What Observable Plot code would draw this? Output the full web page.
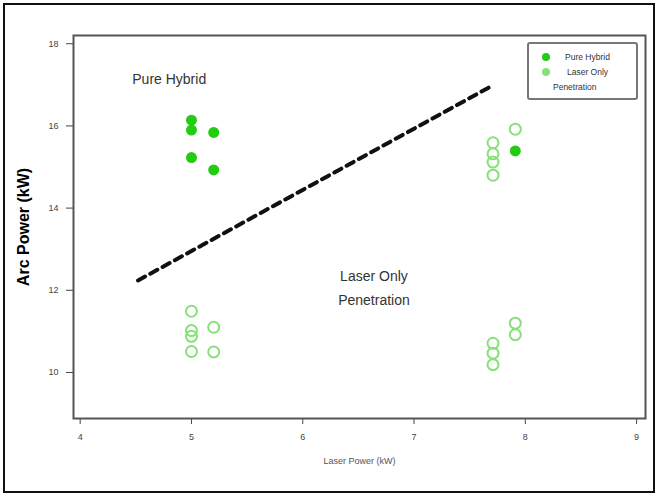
<!DOCTYPE html>
<html>
<head>
<meta charset="utf-8">
<script src="https://cdn.jsdelivr.net/npm/d3@7"></script>
<script src="https://cdn.jsdelivr.net/npm/@observablehq/plot@0.6"></script>
<style>
  body { margin: 0; background: #fff; font-family: "Liberation Sans", Arial, sans-serif; }
  #wrap { position: relative; width: 658px; height: 495px; }
  #wrap svg { display: block; }
  #border { position: absolute; left: 3px; top: 3px; width: 648px; height: 486px; border: 2px solid #111; pointer-events: none; }
  #legend { position: absolute; left: 527px; top: 42px; width: 107px; height: 54px; border: 2px solid #777; border-radius: 3px; font-size: 8.5px; color: #333; }
  .item { position: absolute; white-space: nowrap; }
  .dot { position: absolute; width: 8px; height: 8px; border-radius: 50%; }
</style>
</head>
<body>
<div id="wrap">
  <div id="chart"></div>
  <div id="legend"></div>
  <div id="border"></div>
</div>
<script>
const xTicks = [4, 5, 6, 7, 8, 9];
const yTicks = [10, 12, 14, 16, 18];

const hybridX = [5, 5, 5.2, 5, 5.2, 7.91];
const hybridY = [16.14, 15.9, 15.84, 15.23, 14.93, 15.39];

const laserX = [7.71, 7.71, 7.71, 7.71, 7.91, 5, 5, 5, 5, 5.2, 5.2, 7.71, 7.71, 7.71, 7.91, 7.91];
const laserY = [15.59, 15.32, 15.12, 14.80, 15.92, 11.49, 11.02, 10.88, 10.51, 11.1, 10.5, 10.71, 10.47, 10.19, 11.2, 10.92];

const boundaryX = [4.52, 7.67];
const boundaryY = [12.24, 16.93];

const regionLabels = ["Pure Hybrid", "Laser Only\nPenetration"];
const regionX = [4.8, 6.64];
const regionY = [17.2, 12.12];

const legendLabels = ["Pure Hybrid", "Laser Only", "Penetration"];
const colorHybrid = "#22cc11";
const colorLaser = "#88e07a";

const hybrid = hybridX.map((x, i) => ({x, y: hybridY[i]}));
const laser = laserX.map((x, i) => ({x, y: laserY[i]}));
const boundary = boundaryX.map((x, i) => ({x, y: boundaryY[i]}));
const regions = regionLabels.map((t, i) => ({t, x: regionX[i], y: regionY[i]}));

const chart = Plot.plot({
  width: 658,
  height: 495,
  marginLeft: 73,
  marginRight: 13,
  marginTop: 35,
  marginBottom: 77,
  style: {fontFamily: "'Liberation Sans', Arial, sans-serif", background: "white"},
  x: {domain: [3.94, 9.08]},
  y: {domain: [8.88, 18.2]},
  marks: [
    Plot.axisX({ticks: xTicks, tickFormat: "d", tickSize: 6, tickPadding: 9, fontSize: 9, color: "#444", label: "Laser Power (kW)", labelAnchor: "center", labelArrow: "none", labelOffset: 45}),
    Plot.axisY({ticks: yTicks, tickFormat: "d", tickSize: 7, tickPadding: 8, fontSize: 9, color: "#444", label: "Arc Power (kW)", labelAnchor: "center", labelArrow: "none", labelOffset: 56}),
    Plot.frame({stroke: "#555", strokeWidth: 2}),
    Plot.line(boundary, {x: "x", y: "y", stroke: "#111", strokeWidth: 4, strokeDasharray: "8,6"}),
    Plot.dot(laser, {x: "x", y: "y", r: 5.5, stroke: colorLaser, strokeWidth: 2, fill: "none"}),
    Plot.dot(hybrid, {x: "x", y: "y", r: 5.5, fill: colorHybrid, stroke: "none"}),
    Plot.text(regions, {x: "x", y: "y", text: "t", fontSize: 14, fill: "#333", lineHeight: 1.7})
  ]
});
document.getElementById("chart").appendChild(chart);

const svg = d3.select(chart);
svg.selectAll('[aria-label="y-axis label"] text, [aria-label="y-axis label"]')
  .attr("font-size", 16).attr("font-weight", "bold").attr("fill", "#000");
svg.selectAll('[aria-label="x-axis label"]').attr("font-size", 9).attr("fill", "#555");

const legend = document.getElementById("legend");
const items = [
  {dot: colorHybrid, text: legendLabels[0], dx: 13, tx: 36, top: 8},
  {dot: colorLaser, text: legendLabels[1], dx: 13, tx: 38, top: 23},
  {dot: null, text: legendLabels[2], dx: 0, tx: 24, top: 38}
];
items.forEach(it => {
  if (it.dot) {
    const d = document.createElement("div");
    d.className = "dot";
    d.style.left = it.dx + "px";
    d.style.top = (it.top + 1) + "px";
    d.style.background = it.dot;
    legend.appendChild(d);
  }
  const t = document.createElement("div");
  t.className = "item";
  t.style.left = it.tx + "px";
  t.style.top = it.top + "px";
  t.textContent = it.text;
  legend.appendChild(t);
});
</script>
</body>
</html>
